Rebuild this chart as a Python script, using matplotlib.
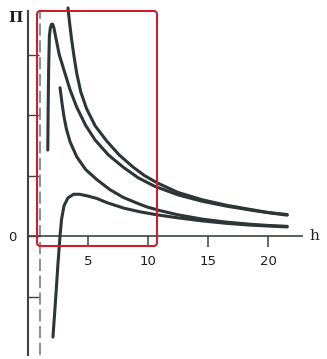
import matplotlib
matplotlib.use("Agg")
import matplotlib.pyplot as plt
from matplotlib.patches import FancyBboxPatch

# ---- data ----
hA = [3.33, 3.48, 3.64, 3.85, 4.06, 4.4, 4.89, 5.6, 6.56, 7.6, 8.75, 9.7, 10.75, 12.5, 14.5, 16.5, 18.5, 20.0, 21.6]
pA = [3.77, 3.50, 3.24, 2.95, 2.69, 2.38, 2.10, 1.82, 1.57, 1.34, 1.14, 1.00, 0.88, 0.72, 0.60, 0.51, 0.44, 0.39, 0.355]

hB = [1.65, 1.68, 1.72, 1.78, 1.86, 1.96, 2.06, 2.16, 2.3, 2.6, 3.08, 3.5, 4.06, 4.8, 5.58, 6.7, 7.92, 9.2, 10.58, 12.5, 14.5, 16.5, 18.5, 20.0, 21.6]
pB = [1.42, 2.10, 2.75, 3.30, 3.44, 3.50, 3.50, 3.44, 3.30, 3.00, 2.69, 2.42, 2.13, 1.83, 1.59, 1.34, 1.14, 0.96, 0.82, 0.68, 0.575, 0.495, 0.43, 0.385, 0.345]

hC = [2.67, 2.75, 2.85, 3.0, 3.2, 3.5, 4.06, 4.8, 5.75, 6.8, 7.92, 9.0, 9.92, 11.0, 12.5, 14.5, 16.5, 18.5, 20.0, 21.6]
pC = [2.45, 2.33, 2.17, 1.97, 1.77, 1.56, 1.31, 1.10, 0.93, 0.77, 0.64, 0.55, 0.48, 0.42, 0.35, 0.28, 0.23, 0.195, 0.175, 0.16]

hD = [2.08, 2.3, 2.5, 2.67, 2.8, 3.0, 3.33, 3.8, 4.3, 5.0, 5.75, 6.6, 8.0, 9.33, 10.75, 12.5, 14.5, 16.5, 18.5, 20.0, 21.6]
pD = [-1.67, -1.05, -0.45, 0.0, 0.28, 0.50, 0.63, 0.69, 0.69, 0.66, 0.62, 0.55, 0.46, 0.40, 0.35, 0.30, 0.25, 0.21, 0.18, 0.165, 0.15]

x_ticks = [5, 10, 15, 20]
x_tick_labels = ["5", "10", "15", "20"]
y_ticks = [-1, 0, 1, 2, 3]
y_tick_labels = ["", "0", "", "", ""]
h_dashed = 1.0
box_h = (0.75, 10.75)
box_p = (-0.165, 3.72)

curve_color = "#2c3636"
axis_color = "#3a4440"

fig = plt.figure(figsize=(3.27, 3.59), dpi=100)
ax = fig.add_axes([0, 0, 1, 1])
ax.set_xlim(-2.333, 24.917)
ax.set_ylim(-2.033, 3.901)

for s in ["top", "right"]:
    ax.spines[s].set_visible(False)
ax.spines["left"].set_position(("data", 0))
ax.spines["bottom"].set_position(("data", 0))
ax.spines["left"].set_bounds(-1.97, 3.72)
ax.spines["bottom"].set_bounds(0, 22.8)
ax.spines["left"].set_linewidth(1.5)
ax.spines["bottom"].set_linewidth(1.2)
ax.spines["left"].set_color(axis_color)
ax.spines["bottom"].set_color(axis_color)

ax.set_xticks(x_ticks)
ax.set_xticklabels(x_tick_labels)
ax.set_yticks(y_ticks)
ax.set_yticklabels(y_tick_labels)
ax.tick_params(axis="x", direction="out", length=8, width=1.1, color=axis_color,
               labelsize=9.5, pad=6, labelcolor="#1e1e1e")
ax.tick_params(axis="y", direction="in", length=8, width=1.0, color=axis_color,
               labelsize=9.5, pad=8, labelcolor="#1e1e1e")

# dashed vertical line
ax.plot([h_dashed, h_dashed], [-1.97, 3.72], color="#6b7371", lw=1.1,
        linestyle=(0, (8, 3)), zorder=2)

for hh, pp in [(hA, pA), (hB, pB), (hC, pC), (hD, pD)]:
    ax.plot(hh, pp, color=curve_color, lw=2.2, solid_capstyle="round",
            solid_joinstyle="round", zorder=3)

box = FancyBboxPatch((box_h[0], box_p[0]), box_h[1] - box_h[0], box_p[1] - box_p[0],
                     boxstyle="round,pad=0,rounding_size=0.3", mutation_aspect=0.198,
                     fill=False, edgecolor="#cc1f2b", lw=1.5, zorder=4)
ax.add_patch(box)

ax.text(23.9, 0.0, "h", fontsize=11, family="DejaVu Serif", ha="center", va="center", color="#1e1e1e")
ax.text(-1.08, 3.6, "\u03a0", fontsize=11, family="DejaVu Serif", fontweight="bold",
        ha="center", va="center", color="#1e1e1e")

fig.savefig("out.png", dpi=100)
